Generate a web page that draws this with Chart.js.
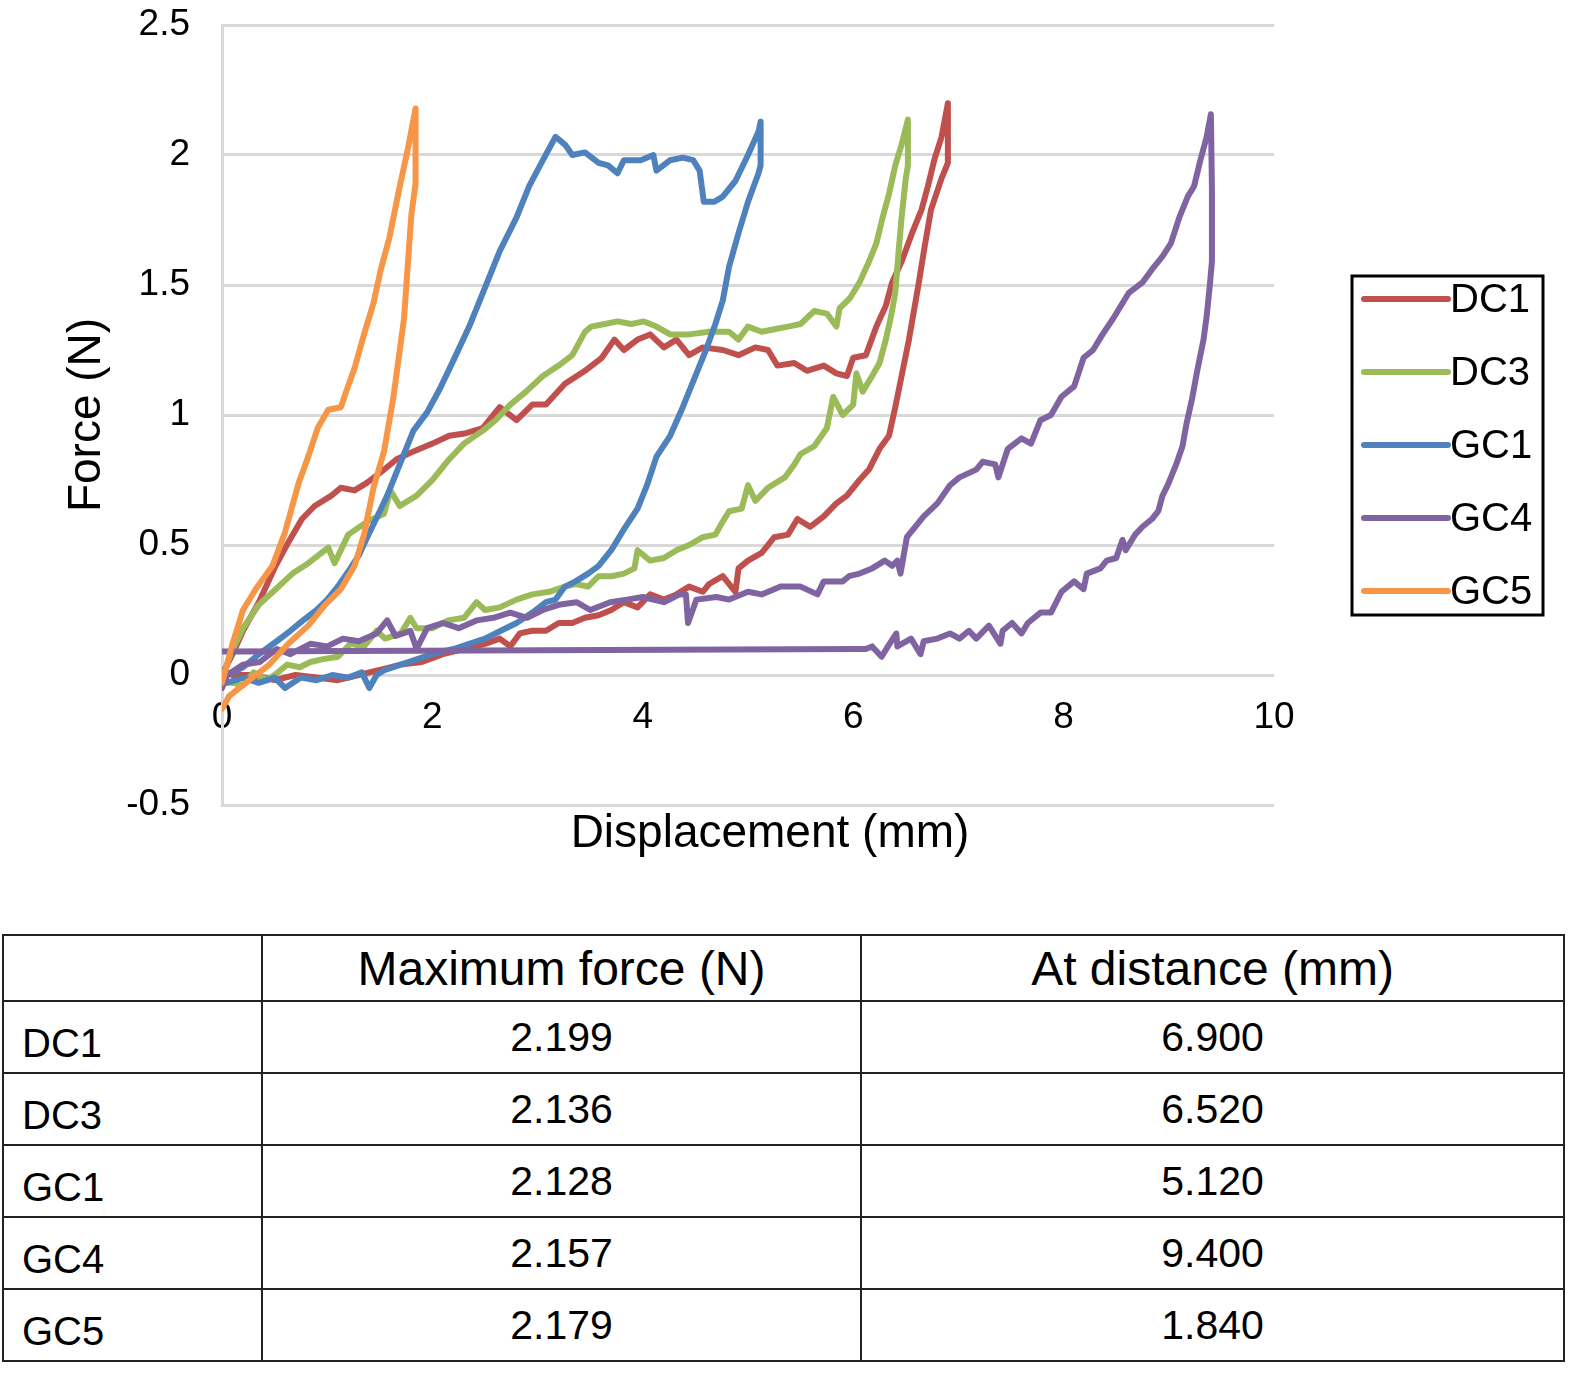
<!DOCTYPE html>
<html>
<head>
<meta charset="utf-8">
<title>Force vs displacement</title>
<script src="https://cdn.jsdelivr.net/npm/chart.js@4.4.1/dist/chart.umd.min.js"></script>
<style>
  body { margin: 0; background: #fff; font-family: "Liberation Sans", Arial, sans-serif; }
  #wrap { position: absolute; left: 0; top: 0; width: 1583px; height: 880px; }
  #results { position: absolute; left: 2px; top: 934px; width: 1563px; border-collapse: collapse; table-layout: fixed; }
  #results td { border: 2px solid #222; padding: 0; color: #000; }
  #results tr.head td { height: 64px; font-size: 48px; text-align: center; }
  #results tr.row td { height: 70px; font-size: 41px; text-align: center; vertical-align: middle; }
  #results tr.row td.name { height: 64px; text-align: left; padding-left: 18px; font-size: 40px; vertical-align: bottom; padding-bottom: 6px; }
</style>
</head>
<body>
<div id="wrap"><canvas id="forceChart"></canvas></div>
<table id="results"></table>
<script>
// measured curves, [displacement mm, force N], loading then unloading
const dc1 = [[0,0.0],[0.1,0.08],[0.2,0.17],[0.35,0.28],[0.51,0.42],[0.63,0.51],[0.76,0.6],[0.88,0.65],[1.04,0.69],[1.13,0.72],[1.26,0.71],[1.38,0.74],[1.51,0.78],[1.66,0.83],[1.82,0.86],[2.0,0.89],[2.16,0.92],[2.32,0.93],[2.48,0.95],[2.64,1.03],[2.8,0.98],[2.95,1.04],[3.08,1.04],[3.26,1.12],[3.45,1.17],[3.61,1.22],[3.73,1.29],[3.82,1.25],[3.95,1.29],[4.07,1.31],[4.2,1.26],[4.32,1.29],[4.44,1.23],[4.57,1.26],[4.76,1.25],[4.91,1.23],[5.07,1.26],[5.19,1.25],[5.28,1.19],[5.44,1.2],[5.56,1.17],[5.72,1.19],[5.84,1.16],[5.94,1.15],[6.0,1.22],[6.12,1.23],[6.22,1.34],[6.31,1.42],[6.37,1.51],[6.46,1.59],[6.56,1.7],[6.65,1.79],[6.71,1.88],[6.77,1.98],[6.84,2.07],[6.9,2.199],
  [6.9,1.97],[6.84,1.91],[6.74,1.79],[6.68,1.65],[6.62,1.5],[6.53,1.29],[6.46,1.15],[6.4,1.03],[6.34,0.92],[6.25,0.87],[6.15,0.79],[6.06,0.75],[5.94,0.69],[5.84,0.66],[5.72,0.61],[5.59,0.57],[5.47,0.6],[5.38,0.54],[5.25,0.53],[5.13,0.47],[5.0,0.44],[4.91,0.41],[4.88,0.32],[4.76,0.38],[4.63,0.35],[4.57,0.32],[4.44,0.34],[4.32,0.31],[4.2,0.29],[4.07,0.31],[3.95,0.26],[3.82,0.28],[3.7,0.25],[3.58,0.23],[3.45,0.22],[3.33,0.2],[3.2,0.2],[3.08,0.17],[2.95,0.17],[2.83,0.16],[2.74,0.11],[2.64,0.14],[2.5,0.12],[2.3,0.1],[2.1,0.08],[1.9,0.05],[1.7,0.04],[1.5,0.02],[1.3,0.0],[1.1,-0.02],[0.9,-0.01],[0.7,0.0],[0.5,-0.02],[0.3,0.0],[0.1,0.0],[0,0.02]];

const dc3 = [[0,-0.02],[0.08,0.08],[0.2,0.18],[0.35,0.27],[0.51,0.33],[0.67,0.39],[0.82,0.43],[1.01,0.49],[1.07,0.43],[1.2,0.54],[1.38,0.59],[1.54,0.62],[1.6,0.71],[1.69,0.65],[1.85,0.69],[2.0,0.75],[2.16,0.83],[2.3,0.89],[2.48,0.94],[2.6,0.98],[2.74,1.04],[2.89,1.09],[3.05,1.15],[3.2,1.19],[3.33,1.23],[3.45,1.32],[3.51,1.34],[3.64,1.35],[3.76,1.36],[3.89,1.35],[4.01,1.36],[4.13,1.34],[4.26,1.31],[4.44,1.31],[4.63,1.32],[4.82,1.32],[4.91,1.29],[5.0,1.34],[5.13,1.32],[5.25,1.33],[5.38,1.34],[5.5,1.35],[5.63,1.4],[5.75,1.39],[5.84,1.34],[5.87,1.41],[5.97,1.45],[6.06,1.51],[6.15,1.59],[6.22,1.66],[6.28,1.76],[6.34,1.85],[6.4,1.96],[6.46,2.04],[6.52,2.136],
  [6.52,1.96],[6.5,1.91],[6.46,1.76],[6.43,1.62],[6.4,1.47],[6.36,1.38],[6.31,1.29],[6.25,1.2],[6.18,1.15],[6.09,1.09],[6.03,1.16],[6.0,1.04],[5.9,1.0],[5.81,1.07],[5.75,0.95],[5.63,0.88],[5.5,0.85],[5.44,0.81],[5.35,0.76],[5.19,0.72],[5.07,0.67],[5.0,0.73],[4.94,0.64],[4.82,0.63],[4.76,0.59],[4.69,0.54],[4.57,0.53],[4.44,0.5],[4.32,0.48],[4.2,0.45],[4.07,0.44],[3.95,0.48],[3.92,0.41],[3.82,0.39],[3.7,0.38],[3.58,0.38],[3.48,0.34],[3.36,0.35],[3.26,0.34],[3.11,0.32],[2.95,0.31],[2.8,0.29],[2.64,0.26],[2.5,0.25],[2.42,0.28],[2.3,0.22],[2.15,0.21],[2.0,0.18],[1.85,0.18],[1.79,0.22],[1.7,0.16],[1.55,0.14],[1.47,0.17],[1.35,0.11],[1.22,0.12],[1.1,0.07],[0.95,0.06],[0.84,0.05],[0.74,0.03],[0.62,0.04],[0.5,0.0],[0.43,-0.02],[0.3,0.01],[0.2,-0.04],[0.1,-0.03],[0,-0.02]];

const gc1 = [[0,-0.02],[0.05,0.0],[0.2,0.03],[0.35,0.08],[0.52,0.13],[0.65,0.17],[0.77,0.21],[0.9,0.25],[1.0,0.29],[1.1,0.34],[1.22,0.41],[1.3,0.46],[1.38,0.53],[1.5,0.63],[1.57,0.69],[1.69,0.81],[1.82,0.94],[1.95,1.01],[2.07,1.1],[2.2,1.21],[2.35,1.34],[2.5,1.49],[2.64,1.63],[2.8,1.76],[2.92,1.88],[3.05,1.98],[3.17,2.07],[3.26,2.04],[3.33,2.0],[3.45,2.01],[3.58,1.97],[3.67,1.96],[3.76,1.93],[3.82,1.98],[3.98,1.98],[4.1,2.0],[4.13,1.94],[4.26,1.98],[4.38,1.99],[4.48,1.98],[4.54,1.94],[4.58,1.82],[4.68,1.82],[4.76,1.84],[4.88,1.9],[5.0,2.0],[5.1,2.09],[5.12,2.128],
  [5.12,1.96],[5.1,1.93],[5.0,1.82],[4.91,1.7],[4.82,1.57],[4.76,1.44],[4.69,1.35],[4.6,1.25],[4.51,1.16],[4.38,1.03],[4.26,0.92],[4.13,0.84],[4.04,0.73],[3.95,0.64],[3.82,0.56],[3.7,0.48],[3.58,0.42],[3.48,0.39],[3.36,0.36],[3.26,0.34],[3.17,0.29],[3.08,0.28],[2.95,0.24],[2.8,0.2],[2.65,0.17],[2.5,0.14],[2.35,0.12],[2.2,0.1],[2.0,0.08],[1.85,0.06],[1.7,0.04],[1.55,0.02],[1.47,0.0],[1.4,-0.05],[1.33,0.01],[1.2,-0.01],[1.05,0.0],[0.9,-0.02],[0.75,-0.01],[0.6,-0.05],[0.5,-0.01],[0.35,-0.03],[0.2,-0.01],[0.05,-0.03],[0,-0.01]];

const gc4 = [[0,-0.05],[0.05,0.0],[0.2,0.04],[0.36,0.05],[0.52,0.1],[0.65,0.08],[0.84,0.12],[1.0,0.11],[1.15,0.14],[1.3,0.13],[1.47,0.16],[1.57,0.21],[1.65,0.15],[1.79,0.17],[1.85,0.1],[1.95,0.18],[2.1,0.2],[2.25,0.18],[2.42,0.21],[2.58,0.22],[2.74,0.24],[2.9,0.22],[3.05,0.25],[3.2,0.27],[3.37,0.28],[3.5,0.25],[3.69,0.28],[3.85,0.29],[4.0,0.3],[4.2,0.28],[4.35,0.31],[4.41,0.31],[4.43,0.2],[4.51,0.29],[4.7,0.3],[4.82,0.29],[5.0,0.32],[5.13,0.31],[5.31,0.34],[5.5,0.34],[5.66,0.31],[5.72,0.36],[5.9,0.36],[5.96,0.38],[6.06,0.39],[6.18,0.41],[6.3,0.44],[6.37,0.42],[6.42,0.44],[6.45,0.39],[6.51,0.53],[6.67,0.61],[6.8,0.66],[6.92,0.73],[7.01,0.76],[7.17,0.79],[7.23,0.82],[7.35,0.81],[7.38,0.76],[7.47,0.87],[7.6,0.91],[7.69,0.89],[7.78,0.98],[7.88,1.0],[7.98,1.07],[8.1,1.11],[8.19,1.22],[8.28,1.25],[8.37,1.31],[8.47,1.37],[8.62,1.47],[8.75,1.51],[8.84,1.56],[8.94,1.61],[9.02,1.66],[9.1,1.76],[9.18,1.84],[9.24,1.88],[9.3,1.98],[9.36,2.07],[9.4,2.157],
  [9.41,1.87],[9.41,1.73],[9.41,1.59],[9.39,1.5],[9.36,1.38],[9.33,1.29],[9.27,1.17],[9.22,1.06],[9.17,0.97],[9.13,0.88],[9.07,0.81],[8.99,0.73],[8.94,0.69],[8.9,0.63],[8.84,0.6],[8.75,0.57],[8.68,0.54],[8.59,0.48],[8.56,0.52],[8.5,0.45],[8.41,0.44],[8.35,0.41],[8.22,0.39],[8.19,0.33],[8.1,0.36],[7.98,0.32],[7.88,0.24],[7.78,0.24],[7.66,0.2],[7.6,0.16],[7.51,0.2],[7.42,0.17],[7.4,0.12],[7.29,0.19],[7.17,0.14],[7.1,0.17],[7.01,0.14],[6.92,0.16],[6.8,0.14],[6.67,0.13],[6.64,0.08],[6.55,0.14],[6.42,0.11],[6.41,0.16],[6.33,0.11],[6.27,0.07],[6.18,0.11],[6.12,0.1],[6.05,0.1],[0,0.09]];

const gc5 = [[0,-0.03],[0.1,0.12],[0.2,0.25],[0.32,0.33],[0.48,0.42],[0.6,0.55],[0.73,0.74],[0.82,0.84],[0.91,0.95],[1.01,1.02],[1.13,1.03],[1.18,1.09],[1.26,1.18],[1.35,1.31],[1.44,1.43],[1.51,1.56],[1.59,1.68],[1.68,1.86],[1.77,2.03],[1.84,2.179],
  [1.84,1.89],[1.8,1.77],[1.73,1.37],[1.63,1.07],[1.54,0.86],[1.44,0.72],[1.35,0.54],[1.26,0.42],[1.13,0.33],[0.98,0.27],[0.82,0.19],[0.63,0.12],[0.45,0.04],[0.26,-0.02],[0.07,-0.08],[0,-0.13]];

const seriesNames = ['DC1', 'DC3', 'GC1', 'GC4', 'GC5'];
const seriesColors = ['#C0504D', '#9BBB59', '#4F81BD', '#8064A2', '#F79646'];
const xTickLabels = ['0', '2', '4', '6', '8', '10'];
const yTickLabels = ['-0.5', '0', '0.5', '1', '1.5', '2', '2.5'];

// table under the chart
const tableHeaders = ['', 'Maximum force (N)', 'At distance (mm)'];
const maxForce = ['2.199', '2.136', '2.128', '2.157', '2.179'];
const atDistance = ['6.900', '6.520', '5.120', '9.400', '1.840'];

const FONT = '"Liberation Sans", Arial, Helvetica, sans-serif';

document.addEventListener('DOMContentLoaded', () => {
    const curves = [dc1, dc3, gc1, gc4, gc5];

    const datasets = curves.map((pts, i) => ({
        label: seriesNames[i],
        data: pts.map(p => ({ x: p[0], y: p[1] })),
        showLine: true,
        borderColor: seriesColors[i],
        backgroundColor: seriesColors[i],
        borderWidth: 6,
        borderJoinStyle: 'round',
        borderCapStyle: 'round',
        pointRadius: 0,
        tension: 0,
        order: curves.length - i
    }));

    // x axis title sits under the plot, not next to the tick labels at y = 0
    const xTitlePlugin = {
        id: 'xTitle',
        afterDraw(chart) {
            const { ctx, chartArea } = chart;
            ctx.save();
            ctx.font = '46px ' + FONT;
            ctx.fillStyle = '#000';
            ctx.textAlign = 'center';
            ctx.textBaseline = 'middle';
            ctx.fillText('Displacement (mm)', (chartArea.left + chartArea.right) / 2 + 22, chartArea.bottom + 29);
            ctx.restore();
        }
    };

    // boxed legend on the right
    const boxLegend = {
        id: 'boxLegend',
        afterDraw(chart) {
            const { ctx, chartArea } = chart;
            const left = chartArea.right + 78;
            const top = chartArea.top + 251;
            ctx.save();
            ctx.strokeStyle = '#000';
            ctx.lineWidth = 3;
            ctx.strokeRect(left, top, 191, 339);
            ctx.font = '40px ' + FONT;
            ctx.textBaseline = 'middle';
            ctx.lineCap = 'round';
            chart.data.datasets.forEach((ds, i) => {
                const y = top + 23 + i * 73;
                ctx.strokeStyle = ds.borderColor;
                ctx.lineWidth = 6;
                ctx.beginPath();
                ctx.moveTo(left + 12, y);
                ctx.lineTo(left + 96, y);
                ctx.stroke();
                ctx.fillStyle = '#000';
                ctx.fillText(ds.label, left + 98, y + 2);
            });
            ctx.restore();
        }
    };

    const ctx = document.querySelector('#forceChart').getContext('2d');
    new Chart(ctx, {
        type: 'scatter',
        data: { datasets: datasets },
        options: {
            responsive: true,
            maintainAspectRatio: false,
            animation: false,
            layout: { padding: { top: 25, right: 309, bottom: 75, left: 0 } },
            plugins: {
                legend: { display: false },
                tooltip: { enabled: false }
            },
            scales: {
                x: {
                    type: 'linear',
                    position: { y: 0 },
                    min: 0,
                    max: 10,
                    grid: { display: false, drawTicks: false },
                    border: { display: false },
                    ticks: {
                        stepSize: 2,
                        padding: 21,
                        maxRotation: 0,
                        color: '#000',
                        font: { family: FONT, size: 37 },
                        callback: (v, i) => xTickLabels[i]
                    }
                },
                y: {
                    min: -0.5,
                    max: 2.5,
                    grid: { color: '#d9d9d9', lineWidth: 3, drawTicks: false },
                    border: { display: true, color: '#d9d9d9', width: 3 },
                    ticks: {
                        stepSize: 0.5,
                        padding: 32,
                        color: '#000',
                        font: { family: FONT, size: 37 },
                        callback: (v, i) => yTickLabels[i]
                    },
                    title: {
                        display: true,
                        text: 'Force (N)',
                        color: '#000',
                        font: { family: FONT, size: 46 },
                        padding: { top: 60, bottom: 0 }
                    },
                    afterFit: (axis) => {
                        axis.width = 222;
                        axis.paddingTop = 0;
                        axis.paddingBottom = 0;
                    }
                }
            }
        },
        plugins: [xTitlePlugin, boxLegend]
    });

    // results table
    const table = document.querySelector('#results');
    let html = '<colgroup><col style="width:259px"><col style="width:599px"><col></colgroup>';
    html += '<tr class="head">' + tableHeaders.map(h => `<td>${h}</td>`).join('') + '</tr>';
    seriesNames.forEach((name, i) => {
        html += `<tr class="row"><td class="name">${name}</td><td>${maxForce[i]}</td><td>${atDistance[i]}</td></tr>`;
    });
    table.innerHTML = html;
});
</script>
</body>
</html>
